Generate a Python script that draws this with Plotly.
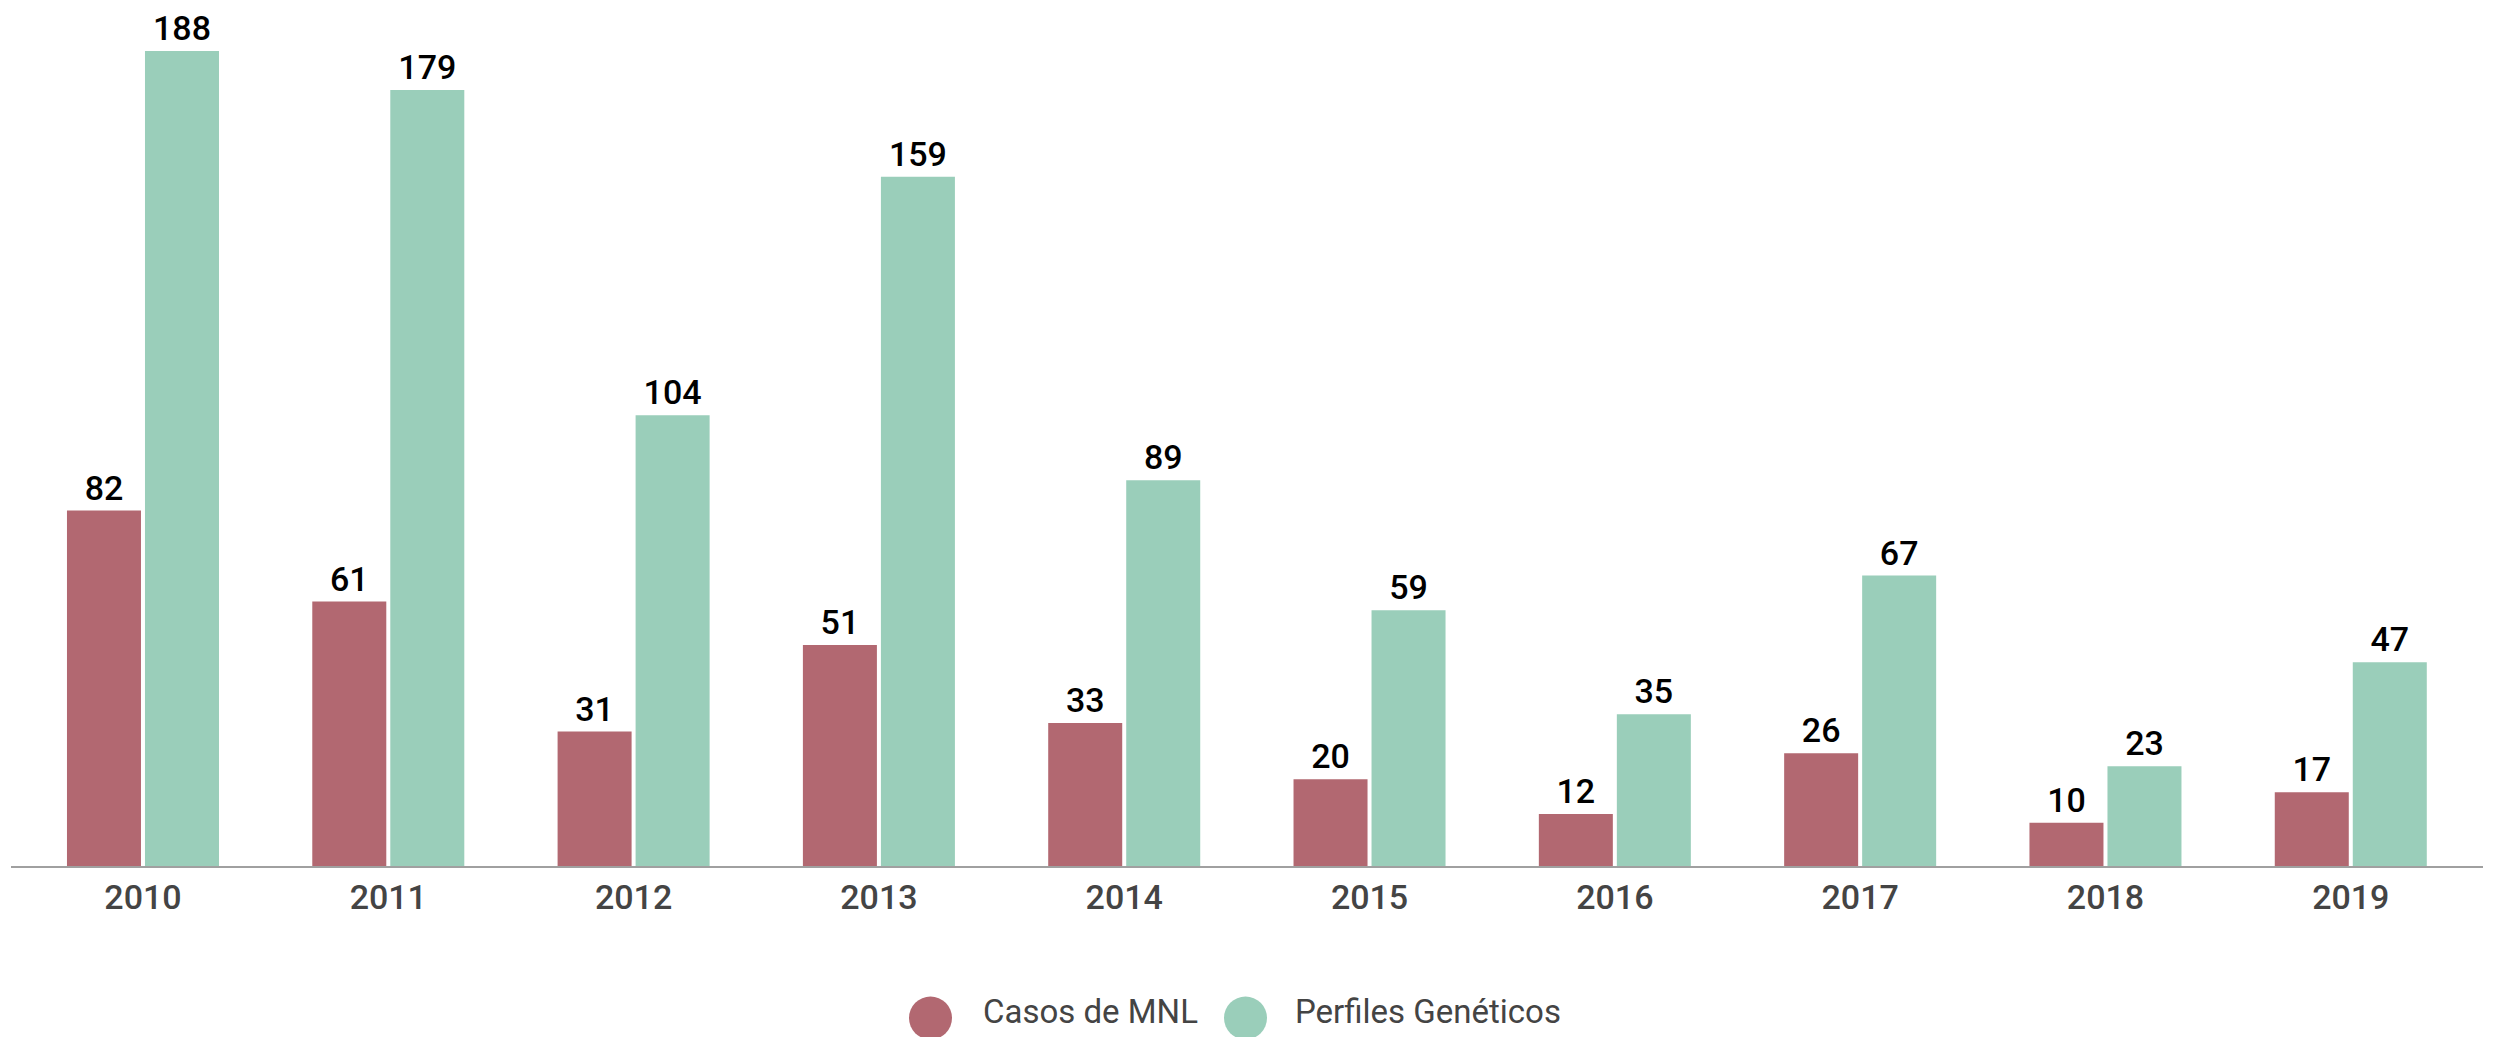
import plotly.graph_objects as go

years = ["2010", "2011", "2012", "2013", "2014", "2015", "2016", "2017", "2018", "2019"]
casos_mnl = [82, 61, 31, 51, 33, 20, 12, 26, 10, 17]
perfiles_geneticos = [188, 179, 104, 159, 89, 59, 35, 67, 23, 47]
series_names = ["Casos de MNL", "Perfiles Genéticos"]
colors = ["#B26871", "#9ACEBA"]

W, H = 2498, 1037
ML, MR, MT, MB = 11, 15, 20, 171
plot_w = W - ML - MR
plot_h = H - MT - MB

fig = go.Figure()
for name, vals, col in zip(series_names, [casos_mnl, perfiles_geneticos], colors):
    fig.add_trace(go.Bar(
        x=years, y=vals, name=name,
        marker=dict(color=col, line=dict(width=0)),
        text=vals, textposition="outside", cliponaxis=False,
        textfont=dict(family="Roboto", size=34, color="#000000", weight=500),
        showlegend=False,
    ))

# manual legend (large circles like the reference)
leg_y = -152 / plot_h
leg_items = [(930.5, 981), (1245.5, 1293)]
shapes = []
annotations = []
for (cx, tx), name, col in zip(leg_items, series_names, colors):
    shapes.append(dict(
        type="circle", xref="paper", yref="paper",
        xsizemode="pixel", ysizemode="pixel",
        xanchor=(cx - ML) / plot_w, yanchor=leg_y,
        x0=-21.5, x1=21.5, y0=-21.5, y1=21.5,
        fillcolor=col, line=dict(width=0),
    ))
    annotations.append(dict(
        text=name, xref="paper", yref="paper",
        x=(tx - ML) / plot_w, y=-146 / plot_h, xanchor="left", yanchor="middle",
        showarrow=False, font=dict(family="Roboto", size=33, color="#444444"),
    ))

fig.update_layout(
    width=W, height=H,
    margin=dict(l=ML, r=MR, t=MT, b=MB, pad=0),
    paper_bgcolor="white", plot_bgcolor="white",
    barmode="group", bargap=0.364, bargroupgap=0.0513,
    font=dict(family="Roboto"),
    shapes=shapes, annotations=annotations,
    xaxis=dict(
        range=[-0.538, 9.539], showgrid=False, zeroline=False,
        showline=True, linecolor="#A0A0A0", linewidth=2,
        ticks="", tickfont=dict(family="Roboto", size=34, color="#444444", weight=500),
    ),
    yaxis=dict(
        range=[0, plot_h / 4.335], visible=False, showgrid=False, zeroline=False,
    ),
)

fig.write_html("out.html")
